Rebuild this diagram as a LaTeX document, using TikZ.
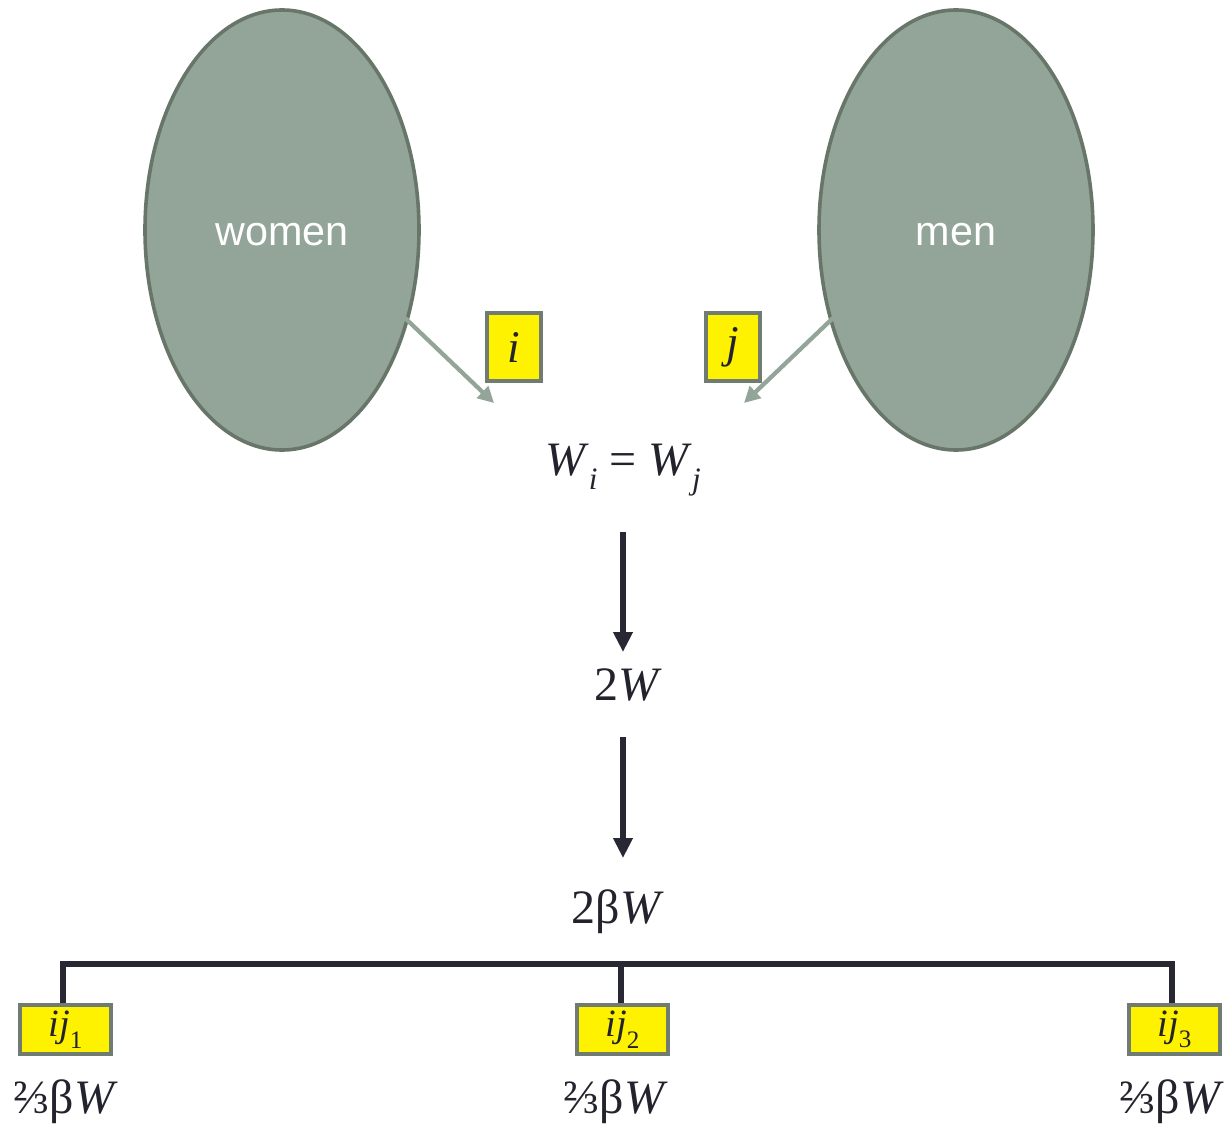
\documentclass[tikz,border=0pt]{standalone}
\usepackage{fontspec}
\setmainfont{Liberation Serif}
\newfontfamily\arialf{Liberation Sans}
\usetikzlibrary{arrows.meta}
\definecolor{ellfill}{RGB}{147,165,152}
\definecolor{elldraw}{RGB}{104,118,106}
\definecolor{boxdraw}{RGB}{112,124,114}
\definecolor{darkline}{RGB}{40,40,52}
\definecolor{txt}{RGB}{35,35,45}
\newcommand{\sbx}[1]{\raisebox{-0.3em}{\fontsize{0.65em}{0.65em}\selectfont #1}}
\begin{document}
\begin{tikzpicture}[x=0.75pt,y=-0.75pt,
  blob/.style={fill=ellfill,draw=elldraw,line width=2.7pt},
  ybox/.style={fill=yellow,draw=boxdraw,line width=2.6pt,inner sep=0pt,text=txt},
  greyarr/.style={draw=ellfill,line width=3.2pt,-{Triangle[length=12pt,width=12pt]}},
  darkarr/.style={draw=darkline,line width=4pt,-{Triangle[length=15pt,width=14pt]}},
  tree/.style={draw=darkline,line width=4.2pt},
  lbl/.style={text=txt,inner sep=0pt,font=\fontsize{36pt}{40pt}\selectfont}
]
\useasboundingbox (0,0) rectangle (1232,1127);
% ellipses
\draw[blob] (282,230) ellipse [x radius=137,y radius=220];
\draw[blob] (956,230) ellipse [x radius=137,y radius=220];
\node[text=white,font=\arialf\fontsize{31pt}{34pt}\selectfont] (women) at (282,235) {women};
\node[text=white,font=\arialf\fontsize{31pt}{34pt}\selectfont] (men) at (956,235) {men};
\coordinate (wstart) at (405,318);
\coordinate (wend) at (494,403);
\coordinate (mstart) at (833,318);
\coordinate (mend) at (744,403);
% yellow boxes
\node[ybox,minimum width=54*0.75pt,minimum height=68*0.75pt,font=\fontsize{34pt}{36pt}\selectfont] (bi) at (514,347) {\textit{i}};
\node[ybox,minimum width=54*0.75pt,minimum height=68*0.75pt,font=\fontsize{34pt}{36pt}\selectfont] (bj) at (733,347) {\textit{j}};
\draw[greyarr] (wstart) -- (wend);
\draw[greyarr] (mstart) -- (mend);
% equation
\node[lbl] (eq) at (623,470) {\textit{W}\sbx{\textit{i}} = \textit{W}\sbx{\textit{j}}};
\node[lbl] (tw) at (628,685) {2\textit{W}};
\node[lbl] (tbw) at (618,912) {2β\textit{W}};
\coordinate (a1s) at (623,532);
\coordinate (a1e) at (623,652);
\coordinate (a2s) at (623,737);
\coordinate (a2e) at (623,858);
\draw[darkarr] (a1s) -- (a1e);
\draw[darkarr] (a2s) -- (a2e);
% tree
\node[ybox,minimum width=91*0.75pt,minimum height=49*0.75pt,font=\fontsize{29pt}{30pt}\selectfont] (c1) at (65.5,1029.5) {\textit{ij}\sbx{1}};
\node[ybox,minimum width=91*0.75pt,minimum height=49*0.75pt,font=\fontsize{29pt}{30pt}\selectfont] (c2) at (622.5,1029.5) {\textit{ij}\sbx{2}};
\node[ybox,minimum width=91*0.75pt,minimum height=49*0.75pt,font=\fontsize{29pt}{30pt}\selectfont] (c3) at (1174.5,1029.5) {\textit{ij}\sbx{3}};
\coordinate (h1) at (63,964);
\coordinate (h2) at (621,964);
\coordinate (h3) at (1172,964);
\draw[tree] (h1 |- c1.north) -- (h1) -- (h3) -- (h3 |- c3.north);
\draw[tree] (h2) -- (h2 |- c2.north);
\node[lbl] (l1) at (66,1102) {⅔β\textit{W}};
\node[lbl] (l2) at (616,1102) {⅔β\textit{W}};
\node[lbl] (l3) at (1172,1102) {⅔β\textit{W}};
\end{tikzpicture}
\end{document}
